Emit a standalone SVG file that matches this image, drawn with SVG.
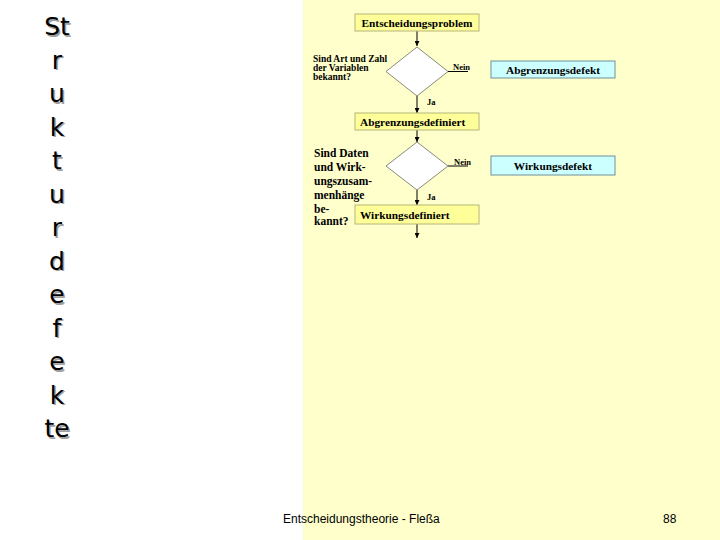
<svg xmlns="http://www.w3.org/2000/svg" width="720" height="540" viewBox="0 0 720 540">
<style>
.title{font-family:"DejaVu Sans",Verdana,sans-serif;font-size:25px;text-anchor:middle}
.sh{fill:#a0a0a0}
.tx{fill:#000}
.box{fill:#ffff99;stroke:#b5b57a;stroke-width:1}
.def{fill:#ccffff;stroke:#6f8f9f;stroke-width:1}
.dia{fill:#ffffff;stroke:#8a8a7a;stroke-width:1}
.bt{font-family:"Liberation Serif","Times New Roman",serif;font-weight:bold;font-size:11.3px;fill:#000}
.q1{font-family:"Liberation Serif","Times New Roman",serif;font-weight:bold;font-size:9.5px;fill:#000}
.q2{font-family:"Liberation Serif","Times New Roman",serif;font-weight:bold;font-size:11.5px;fill:#000}
.lab{font-family:"Liberation Serif","Times New Roman",serif;font-weight:bold;font-size:8.5px;fill:#000}
.con{stroke:#000;stroke-width:1;fill:none}
.foot{font-family:"Liberation Sans",Arial,sans-serif;font-size:12px;fill:#000}
</style>
<defs>
<marker id="ah" viewBox="0 0 6 6" refX="6" refY="3" markerWidth="5" markerHeight="5" orient="auto" markerUnits="userSpaceOnUse">
<path d="M0,0 L6,3 L0,6 z" fill="#000"/>
</marker>
</defs>
<rect x="0" y="0" width="720" height="540" fill="#ffffff"/>
<rect x="303" y="0" width="417" height="540" fill="#ffffcc"/>
<g id="title">
<g class="title sh" transform="translate(1.5,1.5)">
<text x="57" y="35">St</text><text x="57" y="68.5">r</text><text x="57" y="102">u</text><text x="57" y="135.5">k</text><text x="57" y="169">t</text><text x="57" y="202.5">u</text><text x="57" y="236">r</text><text x="57" y="269.5">d</text><text x="57" y="303">e</text><text x="57" y="336.5">f</text><text x="57" y="370">e</text><text x="57" y="403.5">k</text><text x="57" y="437">te</text>
</g>
<g class="title tx">
<text x="57" y="35">St</text><text x="57" y="68.5">r</text><text x="57" y="102">u</text><text x="57" y="135.5">k</text><text x="57" y="169">t</text><text x="57" y="202.5">u</text><text x="57" y="236">r</text><text x="57" y="269.5">d</text><text x="57" y="303">e</text><text x="57" y="336.5">f</text><text x="57" y="370">e</text><text x="57" y="403.5">k</text><text x="57" y="437">te</text>
</g>
</g>
<g id="connectors">
<line class="con" x1="417" y1="31" x2="417" y2="46" marker-end="url(#ah)"/>
<line class="con" x1="417" y1="96" x2="417" y2="113" marker-end="url(#ah)"/>
<line class="con" x1="417" y1="130" x2="417" y2="142" marker-end="url(#ah)"/>
<line class="con" x1="417" y1="190" x2="417" y2="205" marker-end="url(#ah)"/>
<line class="con" x1="417" y1="224" x2="417" y2="238" marker-end="url(#ah)"/>
<line class="con" x1="448" y1="71.5" x2="468" y2="71.5"/>
<line class="con" x1="448" y1="166" x2="468" y2="166"/>
<text class="lab" x="453" y="70">Nein</text>
<text class="lab" x="427" y="105">Ja</text>
<text class="lab" x="454" y="164.5">Nein</text>
<text class="lab" x="427" y="200">Ja</text>
</g>
<g id="entscheidungsproblem">
<rect class="box" x="355" y="14" width="124" height="17"/>
<text class="bt" x="417" y="26.5" text-anchor="middle">Entscheidungsproblem</text>
</g>
<g id="frage1">
<polygon class="dia" points="417,47 448,71.5 417,96 386,71.5"/>
<text class="q1" x="313" y="62">Sind Art und Zahl</text>
<text class="q1" x="313" y="71">der Variablen</text>
<text class="q1" x="313" y="80">bekannt?</text>
</g>
<g id="abgrenzungsdefekt">
<rect class="def" x="491" y="61" width="124" height="17"/>
<text class="bt" x="553" y="73.5" text-anchor="middle">Abgrenzungsdefekt</text>
</g>
<g id="abgrenzungsdefiniert">
<rect class="box" x="355" y="113" width="124" height="17"/>
<text class="bt" x="360" y="125.5">Abgrenzungsdefiniert</text>
</g>
<g id="frage2">
<polygon class="dia" points="417,142 448,166 417,190 386,166"/>
<text class="q2" x="314" y="157">Sind Daten</text>
<text class="q2" x="314" y="171">und Wirk-</text>
<text class="q2" x="314" y="185">ungszusam-</text>
<text class="q2" x="314" y="199">menhänge</text>
<text class="q2" x="314" y="213">be-</text>
<text class="q2" x="314" y="225">kannt?</text>
</g>
<g id="wirkungsdefekt">
<rect class="def" x="491" y="156" width="124" height="19"/>
<text class="bt" x="553" y="169.5" text-anchor="middle">Wirkungsdefekt</text>
</g>
<g id="wirkungsdefiniert">
<rect class="box" x="355" y="205" width="124" height="19"/>
<text class="bt" x="360" y="218.5">Wirkungsdefiniert</text>
</g>
<g id="footer">
<text class="foot" x="283" y="523">Entscheidungstheorie - Fleßa</text>
<text class="foot" x="663" y="523">88</text>
</g>
</svg>
